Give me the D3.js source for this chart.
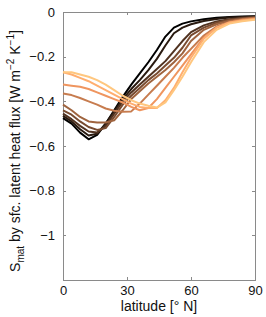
<!DOCTYPE html>
<meta charset="utf-8">
<style>
body { margin: 0; background: #fff; }
.line { fill: none; stroke-width: 2px; stroke-linejoin: round; }
.axis path, .axis line { fill: none; stroke: #8a8a8a; stroke-width: 1; shape-rendering: crispEdges; }
.axis text { font: 13px "Liberation Sans", Arial, sans-serif; fill: #111; }
</style>
<body>
<div id="plotHere"></div>
<script src="https://cdn.jsdelivr.net/npm/d3@7"></script>
<script>
// latitude grid (deg N)
var lat = [0, 4, 8, 12, 16, 20, 24, 28, 32, 36, 40, 44, 48, 52, 56, 60, 66, 72, 78, 84, 90];

// one curve per run, darkest first
var s0 = [-0.475,-0.50,-0.54,-0.57,-0.55,-0.50,-0.44,-0.38,-0.325,-0.275,-0.225,-0.17,-0.11,-0.07,-0.052,-0.042,-0.032,-0.026,-0.022,-0.02,-0.019];
var s1 = [-0.465,-0.49,-0.525,-0.553,-0.545,-0.50,-0.445,-0.39,-0.345,-0.305,-0.26,-0.21,-0.15,-0.095,-0.07,-0.055,-0.04,-0.031,-0.025,-0.022,-0.02];
var s2 = [-0.455,-0.48,-0.51,-0.535,-0.54,-0.51,-0.455,-0.40,-0.36,-0.325,-0.29,-0.255,-0.22,-0.175,-0.13,-0.09,-0.06,-0.042,-0.032,-0.026,-0.023];
var s3 = [-0.44,-0.46,-0.49,-0.515,-0.528,-0.52,-0.47,-0.415,-0.375,-0.34,-0.305,-0.275,-0.24,-0.205,-0.16,-0.105,-0.07,-0.048,-0.035,-0.028,-0.024];
var s4 = [-0.415,-0.44,-0.47,-0.49,-0.495,-0.495,-0.485,-0.44,-0.39,-0.355,-0.32,-0.29,-0.26,-0.225,-0.185,-0.13,-0.08,-0.055,-0.039,-0.031,-0.026];
var s5 = [-0.365,-0.372,-0.385,-0.40,-0.415,-0.432,-0.442,-0.447,-0.445,-0.41,-0.37,-0.33,-0.29,-0.25,-0.205,-0.165,-0.105,-0.065,-0.044,-0.033,-0.028];
var s6 = [-0.325,-0.33,-0.335,-0.345,-0.36,-0.375,-0.39,-0.405,-0.425,-0.44,-0.43,-0.39,-0.34,-0.29,-0.24,-0.19,-0.115,-0.07,-0.048,-0.037,-0.03];
var s7 = [-0.27,-0.28,-0.295,-0.31,-0.33,-0.35,-0.37,-0.39,-0.41,-0.425,-0.43,-0.43,-0.395,-0.34,-0.27,-0.205,-0.12,-0.07,-0.047,-0.038,-0.033];
var s8 = [-0.27,-0.27,-0.28,-0.29,-0.305,-0.325,-0.35,-0.375,-0.395,-0.41,-0.42,-0.428,-0.405,-0.35,-0.29,-0.225,-0.135,-0.08,-0.052,-0.041,-0.035];

var series = [s0, s1, s2, s3, s4, s5, s6, s7, s8];

// copper colormap, black -> light orange
var colors = ["#000000", "#28190f", "#503220", "#784b30", "#9f643f", "#c77c4f", "#ef955f", "#ffae6f", "#ffc77f"];

var xTicks = [0, 30, 60, 90];
var yTicks = [0, -0.2, -0.4, -0.6, -0.8, -1];

var xlabel = "latitude [° N]";

var margin = {top: 12, right: 11, bottom: 37, left: 63},
    width = 266 - margin.left - margin.right,
    height = 317 - margin.top - margin.bottom;

var x = d3.scaleLinear().domain([0, 90]).range([0, width]);
var y = d3.scaleLinear().domain([-1.2, 0]).range([height, 0]);

var svg = d3.select("#plotHere").append("svg")
    .attr("width", width + margin.left + margin.right)
    .attr("height", height + margin.top + margin.bottom)
  .append("g")
    .attr("transform", "translate(" + margin.left + "," + margin.top + ")");

var ticIn = -3;

// box with inward ticks on all four sides
svg.append("g").attr("class", "axis")
    .attr("transform", "translate(0," + height + ")")
    .call(d3.axisBottom(x).tickValues(xTicks).tickSize(ticIn).tickSizeOuter(0).tickPadding(6));
svg.append("g").attr("class", "axis")
    .call(d3.axisTop(x).tickValues(xTicks).tickSize(ticIn).tickSizeOuter(0).tickFormat(""));
svg.append("g").attr("class", "axis")
    .call(d3.axisLeft(y).tickValues(yTicks).tickSize(ticIn).tickSizeOuter(0).tickPadding(8)
      .tickFormat(function(d) { return d === 0 ? "0" : d3.format("")(d); }));
svg.append("g").attr("class", "axis")
    .attr("transform", "translate(" + width + ",0)")
    .call(d3.axisRight(y).tickValues(yTicks).tickSize(ticIn).tickSizeOuter(0).tickFormat(""));

// curves
var valueline = d3.line()
    .x(function(d, i) { return x(lat[i]); })
    .y(function(d) { return y(d); });

svg.selectAll(".line")
    .data(series)
  .enter().append("path")
    .attr("class", "line")
    .style("stroke", function(d, i) { return colors[i]; })
    .attr("d", valueline);

// axis labels
svg.append("text")
    .attr("x", width / 2)
    .attr("y", height + 31)
    .style("font", "14px 'Liberation Sans', Arial, sans-serif")
    .style("fill", "#111")
    .style("text-anchor", "middle")
    .text(xlabel);

var yl = svg.append("text")
    .attr("transform", "translate(" + (-43) + "," + (height / 2 + 5) + ") rotate(-90)")
    .style("font", "14px 'Liberation Sans', Arial, sans-serif")
    .style("fill", "#111")
    .style("text-anchor", "middle");
yl.append("tspan").text("S");
yl.append("tspan").attr("dy", 4).style("font-size", "10px").text("mat");
yl.append("tspan").attr("dy", -4).text(" by sfc. latent heat flux [W m");
yl.append("tspan").attr("dy", -6).style("font-size", "10px").text("\u22122");
yl.append("tspan").attr("dy", 6).text(" K");
yl.append("tspan").attr("dy", -6).style("font-size", "10px").text("\u22121");
yl.append("tspan").attr("dy", 6).text("]");
</script>
</body>
